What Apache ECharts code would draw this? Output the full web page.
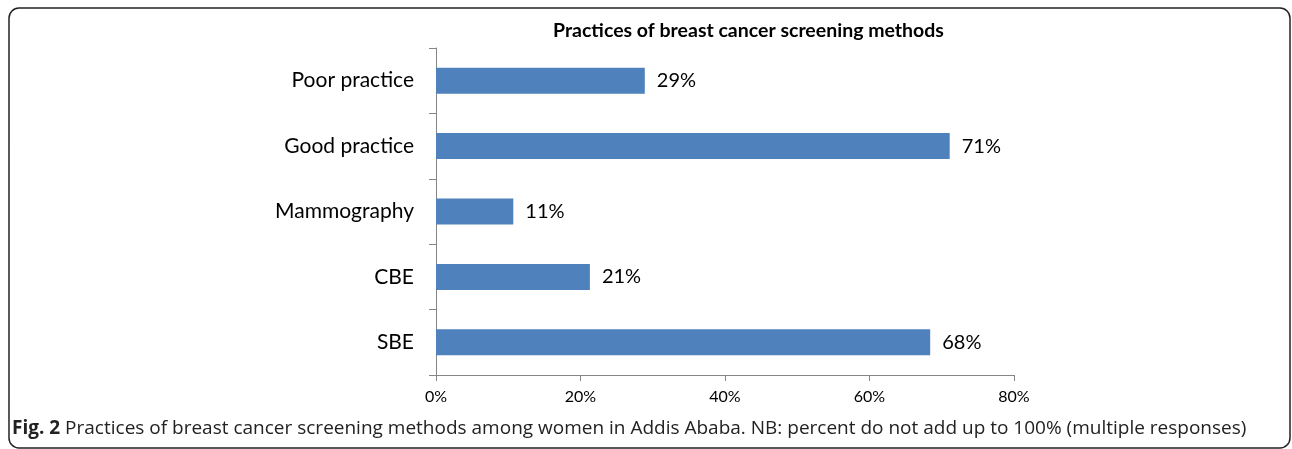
<!DOCTYPE html>
<html>
<head>
    <meta charset="utf-8" />
    <title>Practices of breast cancer screening methods</title>
    <script src="https://cdn.jsdelivr.net/npm/echarts@6/dist/echarts.min.js"></script>
    <style>
        html, body { margin: 0; padding: 0; background: #fff; }
        #chart { width: 1292px; height: 449px; }
    </style>
</head>
<body>
    <div id="chart"></div>
<script>
    // data
    var categories = ['Poor practice', 'Good practice', 'Mammography', 'CBE', 'SBE'];
    var percents = [28.9, 71.1, 10.7, 21.3, 68.4];
    var xTicks = [0, 20, 40, 60, 80];

    var chartFont = 'Lato';
    var myChart = echarts.init(document.getElementById('chart'));

    var option = {
        animation: false,
        backgroundColor: '#fff',
        grid: { left: 436, right: 278, top: 48, bottom: 74 },
        graphic: [
            {
                type: 'rect',
                shape: { x: 9, y: 8, width: 1281, height: 440, r: 10 },
                style: { fill: 'none', stroke: '#222', lineWidth: 1.5 }
            },
            {
                type: 'text',
                left: 553, top: 21,
                style: {
                    text: 'Practices of breast cancer screening methods',
                    font: 'bold 19.5px ' + chartFont,
                    fill: '#000'
                }
            },
            {
                type: 'text',
                left: 12, top: 419,
                style: {
                    text: '{b|Fig. 2} Practices of breast cancer screening methods among women in Addis Ababa. NB: percent do not add up to 100% (multiple responses)',
                    rich: {
                        b: { font: 'bold 19px "Open Sans"', fill: '#222' }
                    },
                    font: '19px "Open Sans"',
                    fill: '#222'
                }
            }
        ],
        xAxis: {
            type: 'value',
            min: xTicks[0],
            max: xTicks[xTicks.length - 1],
            interval: xTicks[1] - xTicks[0],
            axisLine: { show: true, lineStyle: { color: '#868686', width: 1 } },
            axisTick: { show: true, length: 6, lineStyle: { color: '#868686' } },
            splitLine: { show: false },
            axisLabel: {
                formatter: '{value}%',
                margin: 14,
                color: '#000',
                fontFamily: chartFont,
                fontSize: 16
            }
        },
        yAxis: {
            type: 'category',
            data: categories,
            inverse: true,
            axisLine: { show: true, lineStyle: { color: '#868686', width: 1 } },
            axisTick: { show: true, length: 7, lineStyle: { color: '#868686' } },
            axisLabel: {
                margin: 22,
                color: '#000',
                fontFamily: chartFont,
                fontSize: 21
            }
        },
        series: [{
            type: 'bar',
            data: percents,
            barWidth: 26,
            itemStyle: { color: '#4f81bd' },
            label: {
                show: true,
                position: 'right',
                distance: 12,
                color: '#000',
                fontFamily: chartFont,
                fontSize: 20,
                formatter: function (p) { return Math.round(p.value) + '%'; }
            }
        }]
    };

    myChart.setOption(option);
</script>
</body>
</html>
